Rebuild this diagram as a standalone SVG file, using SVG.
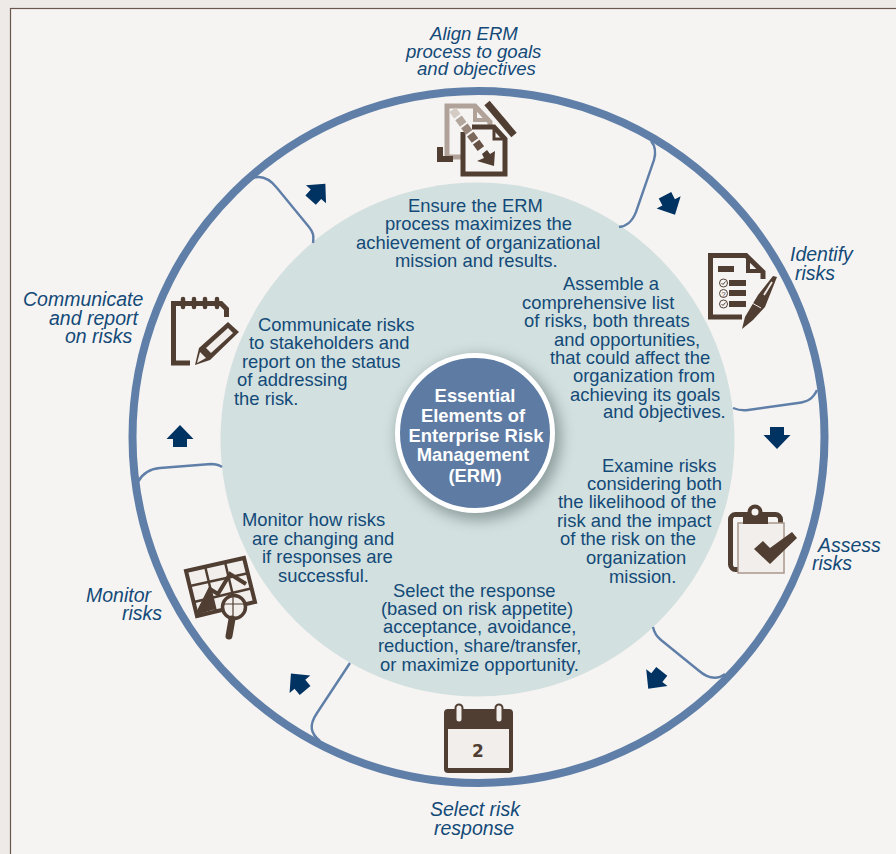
<svg xmlns="http://www.w3.org/2000/svg" width="896" height="854" viewBox="0 0 896 854">
<style>
.b{font-family:"Liberation Sans",Arial,sans-serif;font-size:18.4px;fill:#134a78}
.l{font-family:"Liberation Sans",Arial,sans-serif;font-size:19.5px;font-style:italic;fill:#134a78}
.t{font-size:18.6px}
.c{font-family:"Liberation Sans",Arial,sans-serif;font-size:18.4px;font-weight:bold;fill:#fff;text-anchor:middle}
.d{fill:#513e33}
.o{fill:none;stroke:#513e33;stroke-width:5}
.p{fill:#f1eeeb}
.k{fill:none;stroke:#5f7fa8;stroke-width:2.400}
.a{fill:#003262}
</style>
<defs>
<polygon id="arrow" points="-7,-11 7,-11 7,-3 13.500,-3 0,11 -13.500,-3 -7,-3"/>
<filter id="sh" x="-30%" y="-30%" width="160%" height="160%"><feGaussianBlur stdDeviation="7"/></filter>
</defs>
<rect width="896" height="854" fill="#eeeae7"/>
<rect x="10.500" y="8.500" width="900" height="860" fill="#f6f4f2" stroke="#6a564c" stroke-width="1.200"/>
<circle id="inner" cx="477.500" cy="439.500" r="257" fill="#d2e0df"/>
<g id="connectors">
<path class="k" d="M651,141C656,147 656,153 654,160L636,212C632,222 627,226 619,227"/>
<path class="k" d="M817,390C813,399 807,402 798,403L748,410C742,411 738,410 733,408"/>
<path class="k" d="M653,627C654,632 656,636 661,640L698,670C706,677 716,681 725,674"/>
<path class="k" d="M350,663L317,713C309,725 310,733 320,741"/>
<path class="k" d="M222,467C219,465 216,464 211,464L160,468C149,469 142,474 138,482"/>
<path class="k" d="M313,243C314,235 313,232 309,227L277,188C270,179 261,174 250,179"/>
<use href="#arrow" class="a" transform="translate(670,205) rotate(-27)"/>
<use href="#arrow" class="a" transform="translate(777,438)"/>
<use href="#arrow" class="a" transform="translate(655,680) rotate(38)"/>
<use href="#arrow" class="a" transform="translate(298,682) rotate(140)"/>
<use href="#arrow" class="a" transform="translate(180,436) rotate(180)"/>
<use href="#arrow" class="a" transform="translate(318,192) rotate(-138)"/>
</g>
<circle id="ring" cx="478.500" cy="437" r="346" fill="none" stroke="#5f7fa8" stroke-width="8"/>
<g id="node-align">
<text class="l t" x="430" y="40">Align ERM</text><text class="l t" x="406" y="58">process to goals</text><text class="l t" x="417" y="75">and objectives</text>
<path d="M461,157H447V106H475L490,122V128" fill="none" stroke="#b0a298" stroke-width="5"/>
<path d="M475,106V120H489" fill="none" stroke="#b0a298" stroke-width="4"/>
<polygon class="d" points="437,147 443,147 443,156 453,156 453,162 437,162"/>
<line x1="487" y1="103" x2="514" y2="135" stroke="#513e33" stroke-width="7"/>
<path class="o" d="M463,130V174H505V139L494,127H463"/>
<path d="M494,127V139H505" fill="none" stroke="#513e33" stroke-width="3"/>
<rect x="460" y="121" width="12" height="11" fill="#f6f4f2"/>
<g transform="rotate(54 455 113)">
<rect x="451" y="109" width="8" height="8" fill="#d4cbc5"/>
<rect x="461" y="109" width="8" height="8" fill="#b3a69d"/>
<rect x="471" y="109" width="8" height="8" fill="#978579"/>
<rect x="481" y="109" width="8" height="8" fill="#7c685b"/>
<rect x="491" y="109" width="8" height="8" fill="#655043"/>
</g>
<polygon class="d" points="495,151 494,166 477,161 484,158 482,154 487,150 490,154"/>
</g>
<g id="node-identify">
<text class="l" x="790" y="261">Identify</text><text class="l" x="795" y="280">risks</text>
<path class="o" d="M742,317H710.500V255.500H746L763,272V279"/>
<path d="M748,256V271H763" fill="none" stroke="#513e33" stroke-width="4"/>
<rect class="d" x="718" y="266" width="16" height="6"/>
<rect class="d" x="729" y="280" width="17" height="6"/><rect class="d" x="729" y="290" width="17" height="6"/><rect class="d" x="729" y="301" width="17" height="6"/>
<g fill="none" stroke="#513e33" stroke-width="1"><circle cx="723.500" cy="283" r="4"/><circle cx="723.500" cy="293.500" r="4"/><circle cx="723.500" cy="304" r="4"/><path d="M721.500,283l1.500,1.500l2.500,-3M721.500,304l1.500,1.500l2.500,-3"/></g>
<text x="723.500" y="296.500" font-family="Liberation Sans,sans-serif" font-size="7.500" fill="#513e33" text-anchor="middle">?</text>
<polygon class="d" points="742,329 745,317 758,295 773,276 777,277 765,307 753,320"/>
<line x1="772" y1="282" x2="764" y2="295" stroke="#f1eeeb" stroke-width="1.800"/>
<line x1="752" y1="303" x2="761" y2="308" stroke="#f1eeeb" stroke-width="1"/>
</g>
<g id="node-assess">
<text class="l" x="818" y="552">Assess</text><text class="l" x="812" y="570">risks</text>
<rect x="730.500" y="514.500" width="50" height="55" rx="5" fill="#f6f4f2" stroke="#513e33" stroke-width="5"/>
<rect x="738" y="523" width="46" height="50" class="p" stroke="#a8978c" stroke-width="1.500"/>
<rect x="734" y="517" width="3" height="50" fill="#f6f4f2"/>
<rect class="d" x="743" y="517" width="25" height="7"/>
<circle class="d" cx="755" cy="512" r="7.500"/><circle cx="755" cy="512" r="3.500" fill="#f6f4f2"/>
<polygon class="d" points="754,549 763,541 770,548 792,532 797,538 770,564"/>
</g>
<g id="node-select">
<text class="l" x="430" y="816">Select risk</text><text class="l" x="434" y="835">response</text>
<rect class="d" x="444" y="709" width="69" height="64" rx="4"/>
<rect class="p" x="448" y="729" width="61" height="39"/>
<rect x="455.500" y="704.500" width="7" height="18" rx="3.500" fill="#f1eeeb" stroke="#513e33" stroke-width="2"/>
<rect x="495.500" y="704.500" width="7" height="18" rx="3.500" fill="#f1eeeb" stroke="#513e33" stroke-width="2"/>
<text x="478" y="757" font-family="DejaVu Sans,sans-serif" font-size="17" font-weight="bold" fill="#513e33" text-anchor="middle">2</text>
</g>
<g id="node-monitor">
<text class="l" x="86" y="602">Monitor</text><text class="l" x="122" y="620">risks</text>
<polygon points="186,571 244,558 255,602 197,616" fill="#f1eeeb" stroke="#513e33" stroke-width="4"/>
<path d="M205,566L216,612M225,562L236,608M190,586L249,573M194,602L253,588" fill="none" stroke="#513e33" stroke-width="2.500"/>
<path d="M197,615L210,589L218,594L230,574L246,584" fill="none" stroke="#513e33" stroke-width="4"/>
<polygon class="d" points="199,614 210,590 216,609"/>
<circle cx="234" cy="607" r="11.500" fill="#f1eeeb" stroke="#513e33" stroke-width="3.500"/>
<path d="M223,604H245M233,596V618" stroke="#513e33" stroke-width="1.200" fill="none"/>
<line x1="232" y1="619" x2="229" y2="636" stroke="#513e33" stroke-width="7" stroke-linecap="round"/>
</g>
<g id="node-communicate">
<text class="l" x="23" y="306">Communicate</text><text class="l" x="49" y="325">and report</text><text class="l" x="65" y="343">on risks</text>
<path class="o" d="M190,363H173.500V303.500H221L226.500,309V317"/>
<g stroke="#513e33" stroke-width="4.500" stroke-linecap="round"><line x1="183" y1="299" x2="183" y2="307"/><line x1="194" y1="299" x2="194" y2="307"/><line x1="205" y1="299" x2="205" y2="307"/><line x1="217" y1="299" x2="217" y2="307"/></g>
<polygon class="d" points="228,322 239,332 210,360 195,365 199,348"/>
<polygon class="p" points="228,328 233,333 211,353 206,348"/>
<polygon class="p" points="200,352 206,358 197,363"/>
</g>
<g id="node-center">
<circle cx="479" cy="438" r="82" fill="#5f6f70" opacity=".6" filter="url(#sh)"/>
<circle cx="475" cy="433" r="77.500" fill="#5e7ba3" stroke="#fff" stroke-width="5"/>
<text class="c" x="475" y="402">Essential</text><text class="c" x="473" y="422">Elements of</text><text class="c" x="476" y="442">Enterprise Risk</text><text class="c" x="473" y="461">Management</text><text class="c" x="475" y="482">(ERM)</text>
</g>
<g id="texts">
<text class="b" x="408" y="212">Ensure the ERM</text><text class="b" x="385" y="230">process maximizes the</text><text class="b" x="356" y="249">achievement of organizational</text><text class="b" x="395" y="267">mission and results.</text>
<text class="b" x="563" y="290">Assemble a</text><text class="b" x="522" y="309">comprehensive list</text><text class="b" x="524" y="327">of risks, both threats</text><text class="b" x="554" y="346">and opportunities,</text><text class="b" x="550" y="364">that could affect the</text><text class="b" x="573" y="382">organization from</text><text class="b" x="570" y="401">achieving its goals</text><text class="b" x="603" y="418">and objectives.</text>
<text class="b" x="602" y="472">Examine risks</text><text class="b" x="587" y="490">considering both</text><text class="b" x="558" y="508">the likelihood of the</text><text class="b" x="557" y="527">risk and the impact</text><text class="b" x="560" y="545">of the risk on the</text><text class="b" x="586" y="564">organization</text><text class="b" x="609" y="583">mission.</text>
<text class="b" x="393" y="597">Select the response</text><text class="b" x="381" y="615">(based on risk appetite)</text><text class="b" x="383" y="633">acceptance, avoidance,</text><text class="b" x="378" y="652">reduction, share/transfer,</text><text class="b" x="380" y="671">or maximize opportunity.</text>
<text class="b" x="242" y="526">Monitor how risks</text><text class="b" x="252" y="545">are changing and</text><text class="b" x="262" y="563">if responses are</text><text class="b" x="278" y="582">successful.</text>
<text class="b" x="258" y="331">Communicate risks</text><text class="b" x="249" y="349">to stakeholders and</text><text class="b" x="242" y="368">report on the status</text><text class="b" x="237" y="386">of addressing</text><text class="b" x="234" y="405">the risk.</text>
</g>
</svg>
